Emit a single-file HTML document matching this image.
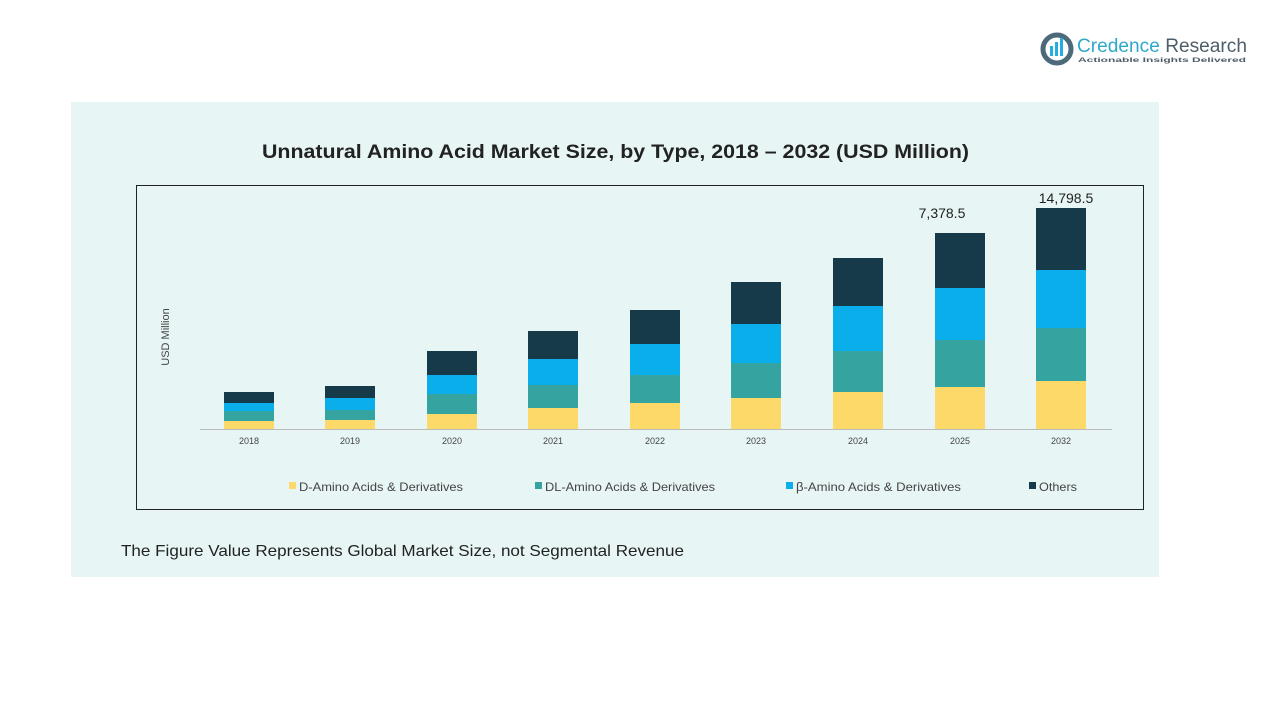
<!DOCTYPE html>
<html><head><meta charset="utf-8"><style>
body{margin:0;width:1280px;height:720px;background:#fff;font-family:"Liberation Sans",sans-serif;position:relative;overflow:hidden}
.panel{position:absolute;left:71px;top:102px;width:1088px;height:475px;background:#e8f5f5}
</style></head><body>
<div class="panel"></div>
<svg width="1280" height="720" style="position:absolute;left:0;top:0">
<g>
<circle cx="1057" cy="49" r="14" fill="none" stroke="#4d6a7a" stroke-width="5"/>
<rect x="1050" y="46" width="3" height="10" fill="#22aee0"/><rect x="1055" y="42" width="3" height="14" fill="#22aee0"/><rect x="1060" y="38" width="3" height="18" fill="#22aee0"/>
<text x="1077" y="52" font-size="19" fill="#2ea9c9" textLength="170" lengthAdjust="spacingAndGlyphs">Credence <tspan fill="#4d5e6a">Research</tspan></text>
<text x="1078" y="62" font-size="6.5" fill="#4d5e6a" font-weight="bold" textLength="168" lengthAdjust="spacingAndGlyphs">Actionable Insights Delivered</text>
</g>
<text x="262" y="158" font-size="19" font-weight="bold" fill="#222" textLength="707" lengthAdjust="spacingAndGlyphs">Unnatural Amino Acid Market Size, by Type, 2018 – 2032 (USD Million)</text>
<rect x="136.5" y="185.5" width="1007" height="324" fill="none" stroke="#222" stroke-width="1"/>
<line x1="200" y1="429.5" x2="1112" y2="429.5" stroke="#bbb"/>
<text transform="translate(169,337) rotate(-90)" text-anchor="middle" font-size="11" fill="#444">USD Million</text>
<g id="bars"></g>
<g font-size="9" fill="#444" text-anchor="middle">
<text x="249" y="444">2018</text><text x="350" y="444">2019</text><text x="452" y="444">2020</text><text x="553" y="444">2021</text><text x="655" y="444">2022</text><text x="756" y="444">2023</text><text x="858" y="444">2024</text><text x="960" y="444">2025</text><text x="1061" y="444">2032</text>
</g>
<text x="942" y="218" text-anchor="middle" font-size="14" fill="#222">7,378.5</text>
<text x="1066" y="203" text-anchor="middle" font-size="14" fill="#222">14,798.5</text>
<g font-size="12" fill="#444">
<rect x="289" y="482" width="7" height="7" fill="#fdd96a"/><text x="299" y="491" textLength="164" lengthAdjust="spacingAndGlyphs">D-Amino Acids &amp; Derivatives</text>
<rect x="535" y="482" width="7" height="7" fill="#35a3a0"/><text x="545" y="491" textLength="170" lengthAdjust="spacingAndGlyphs">DL-Amino Acids &amp; Derivatives</text>
<rect x="786" y="482" width="7" height="7" fill="#0aaeeb"/><text x="796" y="491" textLength="165" lengthAdjust="spacingAndGlyphs">β-Amino Acids &amp; Derivatives</text>
<rect x="1029" y="482" width="7" height="7" fill="#173a4a"/><text x="1039" y="491" textLength="38" lengthAdjust="spacingAndGlyphs">Others</text>
</g>
<text x="121" y="556" font-size="16" fill="#222" textLength="563" lengthAdjust="spacingAndGlyphs">The Figure Value Represents Global Market Size, not Segmental Revenue</text>
</svg>
<script>
var cx=[249,350,452,553,655,756,858,960,1061];
var b=[[421,411,403,392],[420,410,398,386],[414,394,375,351],[408,385,359,331],[403,375,344,310],[398,363,324,282],[392,351,306,258],[387,340,288,233],[381,328,270,208]];
var c=["#fdd96a","#35a3a0","#0aaeeb","#173a4a"];var s="";
for(var i=0;i<9;i++){var p=429;for(var j=0;j<4;j++){s+='<rect x="'+(cx[i]-25)+'" y="'+b[i][j]+'" width="50" height="'+(p-b[i][j])+'" fill="'+c[j]+'"/>';p=b[i][j];}}
document.getElementById("bars").innerHTML=s;
</script>
</body></html>
